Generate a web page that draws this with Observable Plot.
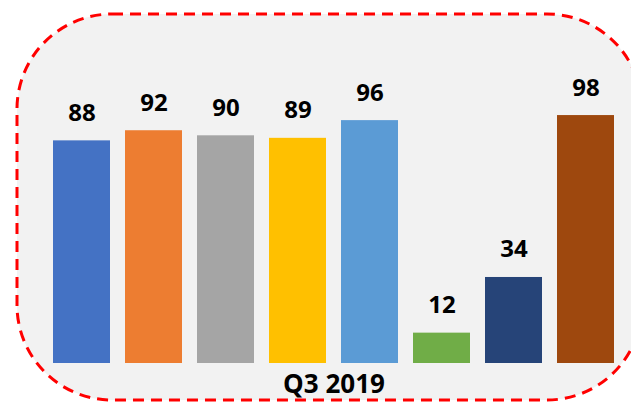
<!DOCTYPE html>
<html>
<head>
<meta charset="utf-8">
<script src="https://cdn.jsdelivr.net/npm/d3@7"></script>
<script src="https://cdn.jsdelivr.net/npm/@observablehq/plot@0.6"></script>
<style>
  html, body { margin: 0; padding: 0; background: #ffffff; }
  #chart { width: 631px; height: 403px; }
</style>
</head>
<body>
<div id="chart"></div>
<script>
const series = ["Series 1", "Series 2", "Series 3", "Series 4", "Series 5", "Series 6", "Series 7", "Series 8"];
const values = [88, 92, 90, 89, 96, 12, 34, 98];
const colors = ["#4472C4", "#ED7D31", "#A5A5A5", "#FFC000", "#5B9BD5", "#70AD47", "#264478", "#9E480E"];
const categoryLabel = "Q3 2019";

const data = series.map((s, i) => ({series: s, value: values[i]}));
const font = "'Open Sans', 'DejaVu Sans', sans-serif";

const background = () => {
  const r = d3.create("svg:rect")
    .attr("x", 17).attr("y", 14)
    .attr("width", 625).attr("height", 386)
    .attr("rx", 95).attr("ry", 95)
    .attr("fill", "#F2F2F2")
    .attr("stroke", "#FF0000")
    .attr("stroke-width", 3)
    .attr("stroke-dasharray", "11 7");
  return r.node();
};

const chart = Plot.plot({
  width: 631,
  height: 403,
  marginLeft: 43.2,
  marginRight: 7.2,
  marginTop: 110,
  marginBottom: 40,
  style: {background: "transparent", fontFamily: font},
  x: {domain: series, paddingInner: 0.2146, paddingOuter: 0.1073, axis: null},
  y: {domain: [0, 100], axis: null},
  color: {domain: series, range: colors},
  marks: [
    background,
    Plot.barY(data, {x: "series", y: "value", fill: "series"}),
    Plot.text(data, {
      x: "series", y: "value", text: d => String(d.value),
      lineAnchor: "bottom", dy: -20,
      fontSize: 24, fontWeight: "bold", fill: "#000000", fontFamily: font
    }),
    Plot.text([categoryLabel], {
      frameAnchor: "bottom", text: d => d,
      lineAnchor: "bottom", dy: 29,
      fontSize: 26, fontWeight: "bold", fill: "#000000", fontFamily: font
    })
  ]
});
document.getElementById("chart").appendChild(chart);
</script>
</body>
</html>
